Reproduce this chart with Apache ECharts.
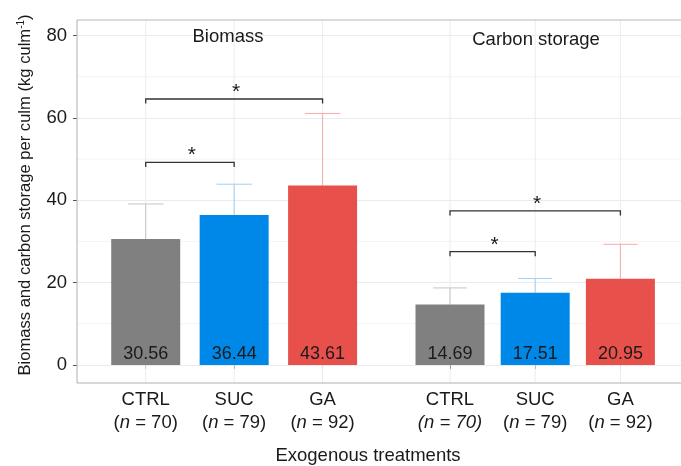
<!DOCTYPE html>
<html><head><meta charset="utf-8">
<script src="https://cdn.jsdelivr.net/npm/echarts@6/dist/echarts.min.js"></script>
<style>html,body{margin:0;padding:0;background:#fff}#c{width:681px;height:466px}</style>
</head><body><div id="c"></div>
<script>
// ---- data ----
const treatments = ['CTRL', 'SUC', 'GA'];
const sampleSizes = [70, 79, 92];
const biomassMeans = [30.56, 36.44, 43.61];
const biomassUpper = [39.1, 43.9, 61.1];
const carbonMeans = [14.69, 17.51, 20.95];
const carbonUpper = [18.7, 21.0, 29.3];
const biomassBrackets = [['CTRL', 'SUC', 49.2], ['CTRL', 'GA', 64.6]];
const carbonBrackets = [['CTRL', 'SUC', 27.5], ['CTRL', 'GA', 37.4]];
const yTicks = [0, 20, 40, 60, 80];
const yMinorTicks = [10, 30, 50, 70];
const biomassItalicN = [false, false, false];
const carbonItalicN = [true, false, false];

// ---- style ----
const FONT = 'Liberation Sans, Arial, sans-serif';
const colors = ['#808080', '#0088E8', '#E8514B'];
const errColors = ['#c6c6c6', '#9fd0f6', '#f6aaa7'];
const YMIN = -4.4, YMAX = 83.8;
const TXT = '#1a1a1a';
const FS = 18.5;
const PLOT = {left: 77, top: 20, bottom: 383, right: 681};

const chart = echarts.init(document.getElementById('c'), null, {renderer: 'canvas'});

function catAxis(gridIndex, italicFlags) {
  return {
    type: 'category', gridIndex, data: treatments,
    axisLine: {show: false},
    axisTick: {show: true, alignWithLabel: true, length: 4, lineStyle: {color: '#555'}},
    splitLine: {show: false},
    axisLabel: {
      margin: 5, interval: 0,
      formatter: function (v, i) {
        const it = italicFlags[i];
        return '{a|' + v + '}\n' + (it ? '{i|(n = ' + sampleSizes[i] + ')}' : '{b|(}{i|n}{b| = ' + sampleSizes[i] + ')}');
      },
      rich: {
        a: {fontSize: FS, color: TXT, fontFamily: FONT, lineHeight: 23.5},
        b: {fontSize: FS, color: TXT, fontFamily: FONT, lineHeight: 23.5},
        i: {fontSize: FS, color: TXT, fontFamily: FONT, lineHeight: 23.5, fontStyle: 'italic'}
      }
    }
  };
}
function hiddenY(gridIndex) {
  return {type: 'value', gridIndex, min: YMIN, max: YMAX, show: false, splitLine: {show: false}};
}

function barSeries(idx, means) {
  return {
    type: 'bar', xAxisIndex: idx, yAxisIndex: idx, barWidth: 69, z: 3,
    data: means.map((v, i) => ({value: v, itemStyle: {color: colors[i]}})),
    label: {
      show: true, position: 'insideBottom', distance: 2,
      fontSize: 18, color: TXT, fontFamily: FONT,
      formatter: p => p.value.toFixed(2)
    }
  };
}
function errSeries(idx, means, upper) {
  return {
    type: 'custom', xAxisIndex: idx, yAxisIndex: idx, z: 2,
    encode: {x: 0, y: [1, 2]},
    data: means.map((m, i) => [i, m, upper[i]]),
    renderItem: function (params, api) {
      const i = api.value(0);
      const p0 = api.coord([i, api.value(1)]);
      const p1 = api.coord([i, api.value(2)]);
      const g0 = api.coord([i, YMIN]);
      const g1 = api.coord([i, YMAX]);
      const half = api.size([1, 0])[0] * 0.2;
      const st = {stroke: errColors[i], lineWidth: 1};
      return {type: 'group', children: [
        {type: 'line', z2: -10, shape: {x1: g0[0], y1: g0[1], x2: g1[0], y2: g1[1]}, style: {stroke: '#ececec', lineWidth: 1}},
        {type: 'line', shape: {x1: p0[0], y1: p0[1], x2: p1[0], y2: p1[1]}, style: st},
        {type: 'line', shape: {x1: p1[0] - half, y1: p1[1], x2: p1[0] + half, y2: p1[1]}, style: st}
      ]};
    }
  };
}
function bracketSeries(idx, brackets) {
  return {
    type: 'custom', xAxisIndex: idx, yAxisIndex: idx, z: 4,
    encode: {x: [0, 1], y: 2},
    data: brackets.map(b => [treatments.indexOf(b[0]), treatments.indexOf(b[1]), b[2]]),
    renderItem: function (params, api) {
      const a = api.coord([api.value(0), api.value(2)]);
      const b = api.coord([api.value(1), api.value(2)]);
      const y = a[1];
      return {type: 'group', children: [
        {type: 'polyline', shape: {points: [[a[0], y + 4.5], [a[0], y], [b[0], y], [b[0], y + 4.5]]},
         style: {stroke: '#333', lineWidth: 1.3, fill: null}},
        {type: 'text', style: {text: '*', x: (a[0] + b[0]) / 2 + 2, y: y - 7, fontSize: 21,
          fontFamily: FONT, fill: TXT, align: 'center', verticalAlign: 'middle'}}
      ]};
    }
  };
}
// minor horizontal grid lines across the whole panel
const minorGrid = {
  type: 'custom', xAxisIndex: 0, yAxisIndex: 0, z: 0, silent: true,
  encode: {y: 0},
  data: yMinorTicks.map(v => [v]),
  renderItem: function (params, api) {
    const a = api.coord([0, api.value(0)]);
    const b = api.coord([1, api.value(0)]);
    return {type: 'line', shape: {x1: a[0], y1: a[1], x2: b[0], y2: b[1]}, style: {stroke: '#f4f4f4', lineWidth: 1}};
  }
};

const option = {
  animation: false,
  backgroundColor: '#fff',
  grid: [
    {left: PLOT.left, right: 681 - PLOT.right, top: PLOT.top, bottom: 466 - PLOT.bottom, show: false},
    {left: 101.5, right: 314.2, top: 20, bottom: 83, show: false},
    {left: 407.4, right: 18, top: 20, bottom: 83, show: false}
  ],
  xAxis: [
    {type: 'value', gridIndex: 0, min: 0, max: 1, show: false},
    catAxis(1, biomassItalicN),
    catAxis(2, carbonItalicN)
  ],
  yAxis: [
    {type: 'value', gridIndex: 0, min: YMIN, max: YMAX,
     axisLine: {show: false},
     axisTick: {show: true, length: 4, customValues: yTicks, lineStyle: {color: '#555'}},
     axisLabel: {customValues: yTicks, fontSize: FS, color: TXT, fontFamily: FONT, margin: 10},
     splitLine: {show: true, lineStyle: {color: '#ebebeb'}}},
    hiddenY(1),
    hiddenY(2)
  ],
  graphic: [
    {type: 'line', z: 50, shape: {x1: PLOT.left, y1: PLOT.top, x2: PLOT.right, y2: PLOT.top}, style: {stroke: '#cfcfcf', lineWidth: 1.5}},
    {type: 'line', z: 50, shape: {x1: PLOT.left, y1: PLOT.bottom, x2: PLOT.right, y2: PLOT.bottom}, style: {stroke: '#b0b0b0', lineWidth: 1}},
    {type: 'line', z: 50, shape: {x1: PLOT.left, y1: PLOT.top, x2: PLOT.left, y2: PLOT.bottom}, style: {stroke: '#b0b0b0', lineWidth: 1}},
    {type: 'text', z: 100, x: 25, y: 195, rotation: Math.PI / 2,
     style: {text: '{a|Biomass and carbon storage per culm (kg culm}{s|-1}{a|)}',
       align: 'center', verticalAlign: 'middle',
       rich: {
         a: {fontSize: 16.6, fill: TXT, fontFamily: FONT},
         s: {fontSize: 10, fill: TXT, fontFamily: FONT, verticalAlign: 'top'}
       }}},
    {type: 'text', z: 100, x: 228, y: 37, style: {text: 'Biomass', fontSize: FS, fontFamily: FONT, fill: TXT, align: 'center', verticalAlign: 'middle'}},
    {type: 'text', z: 100, x: 536, y: 40, style: {text: 'Carbon storage', fontSize: FS, fontFamily: FONT, fill: TXT, align: 'center', verticalAlign: 'middle'}},
    {type: 'text', z: 100, x: 368, y: 456, style: {text: 'Exogenous treatments', fontSize: FS, fontFamily: FONT, fill: TXT, align: 'center', verticalAlign: 'middle'}}
  ],
  series: [
    minorGrid,
    errSeries(1, biomassMeans, biomassUpper),
    errSeries(2, carbonMeans, carbonUpper),
    barSeries(1, biomassMeans),
    barSeries(2, carbonMeans),
    bracketSeries(1, biomassBrackets),
    bracketSeries(2, carbonBrackets)
  ]
};
// bar-panel series: category x axes 1,2 pair with y axes 1,2
chart.setOption(option);
</script>
</body></html>
